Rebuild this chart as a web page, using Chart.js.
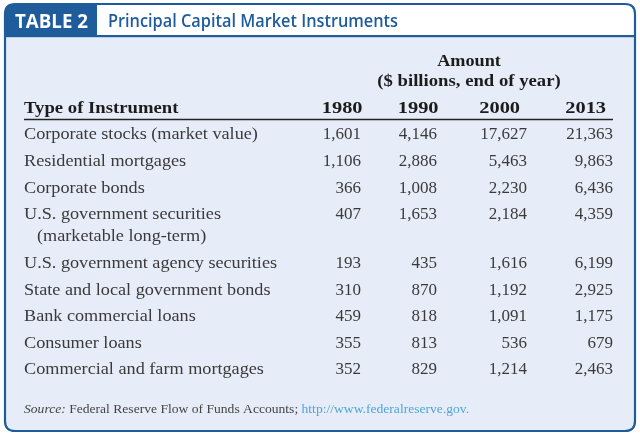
<!DOCTYPE html>
<html><head><meta charset="utf-8">
<script src="https://cdn.jsdelivr.net/npm/chart.js@4/dist/chart.umd.min.js"></script>
<style>html,body{margin:0;padding:0;background:#fff;}canvas{display:block;}</style>
</head><body>
<canvas id="c" width="640" height="434"></canvas>
<script>
// ---- data ----
const tableNumber = 'TABLE 2';
const tableTitle = 'Principal Capital Market Instruments';
const amountHeader = ['Amount', '($ billions, end of year)'];
const rowHeader = 'Type of Instrument';
const years = ['1980', '1990', '2000', '2013'];
const instruments = [
  'Corporate stocks (market value)',
  'Residential mortgages',
  'Corporate bonds',
  'U.S. government securities\n(marketable long-term)',
  'U.S. government agency securities',
  'State and local government bonds',
  'Bank commercial loans',
  'Consumer loans',
  'Commercial and farm mortgages'
];
const v1980 = [1601, 1106, 366, 407, 193, 310, 459, 355, 352];
const v1990 = [4146, 2886, 1008, 1653, 435, 870, 818, 813, 829];
const v2000 = [17627, 5463, 2230, 2184, 1616, 1192, 1091, 536, 1214];
const v2013 = [21363, 9863, 6436, 4359, 6199, 2925, 1175, 679, 2463];
const sourceLabel = 'Source:';
const sourceText = ' Federal Reserve Flow of Funds Accounts; ';
const sourceUrl = 'http://www.federalreserve.gov.';

// ---- layout / style ----
const W = 640, H = 434;
const layout = {
  rowPitch: 26.6, firstRowY: 135, wrapExtra: 0.83,
  labelX: 24, colRight: [361, 437, 527, 613], ruleEnd: 613,
  headerSlot: -1
};
const blue = '#1f5c9c', bodyBg = '#e7edf8', textCol = '#3a3a3a', boldCol = '#1c1c1c';
const serif = '"Liberation Serif", "Times New Roman", serif';
const sans = '"Open Sans", "Lato", sans-serif';

// row slots derived from line counts
const slots = [];
let acc = 0;
instruments.forEach(t => { slots.push(acc); acc += 1 + (t.split('\n').length - 1) * layout.wrapExtra; });

const fmt = n => n.toLocaleString('en-US');
const valueSeries = [v1980, v1990, v2000, v2013];

const datasets = [
  { label: 'instruments', data: instruments.map((t, i) => ({ x: layout.labelX, y: slots[i], text: t })), kind: 'label' }
].concat(valueSeries.map((vals, c) => ({
  label: years[c],
  data: vals.map((v, i) => ({ x: layout.colRight[c], y: slots[i], text: fmt(v) })),
  kind: 'value'
})));
datasets.forEach(d => { d.pointRadius = 0; d.pointHoverRadius = 0; d.showLine = false; });

function roundRectPath(ctx, x, y, w, h, r) {
  ctx.beginPath();
  ctx.moveTo(x + r, y); ctx.lineTo(x + w - r, y); ctx.quadraticCurveTo(x + w, y, x + w, y + r);
  ctx.lineTo(x + w, y + h - r); ctx.quadraticCurveTo(x + w, y + h, x + w - r, y + h);
  ctx.lineTo(x + r, y + h); ctx.quadraticCurveTo(x, y + h, x, y + h - r);
  ctx.lineTo(x, y + r); ctx.quadraticCurveTo(x, y, x + r, y); ctx.closePath();
}
function fitText(ctx, text, x, y, width) {
  const m = ctx.measureText(text).width;
  ctx.save(); ctx.translate(x, y); ctx.scale(width / m, 1); ctx.fillText(text, 0, 0); ctx.restore();
}
function scaledText(ctx, text, x, y, sx) {
  ctx.save(); ctx.translate(x, y); ctx.scale(sx, 1); ctx.fillText(text, 0, 0); ctx.restore();
}

const tablePlugin = {
  id: 'table',
  beforeDraw(chart) {
    const ctx = chart.ctx;
    ctx.save();
    ctx.fillStyle = '#fff'; ctx.fillRect(0, 0, W, H);
    roundRectPath(ctx, 5, 4, 630, 427, 10);
    ctx.fillStyle = bodyBg; ctx.fill();
    ctx.save(); ctx.clip();
    ctx.fillStyle = '#fff'; ctx.fillRect(0, 0, W, 36);
    ctx.fillStyle = blue; ctx.fillRect(0, 0, 97, 36);
    ctx.fillRect(0, 35, W, 2.2);
    ctx.restore();
    roundRectPath(ctx, 5, 4, 630, 427, 10);
    ctx.lineWidth = 2.2; ctx.strokeStyle = blue; ctx.stroke();
    ctx.textBaseline = 'alphabetic';
    ctx.fillStyle = '#fff'; ctx.font = 'bold 20px ' + sans;
    fitText(ctx, tableNumber, 15, 28, 73);
    ctx.fillStyle = blue; ctx.font = '600 18px ' + sans;
    fitText(ctx, tableTitle, 108, 27, 290);
    ctx.restore();
  },
  afterDatasetsDraw(chart) {
    const ctx = chart.ctx, ys = chart.scales.y;
    ctx.save();
    ctx.textBaseline = 'middle';
    // column headings
    const hy = ys.getPixelForValue(layout.headerSlot);
    ctx.fillStyle = boldCol; ctx.font = 'bold 17px ' + serif;
    ctx.textAlign = 'left'; scaledText(ctx, rowHeader, layout.labelX, hy, 1.1);
    chart.data.datasets.forEach((ds, di) => {
      if (ds.kind !== 'value') return;
      const meta = chart.getDatasetMeta(di);
      ctx.font = '17px ' + serif;
      const widest = Math.max(...ds.data.map(p => ctx.measureText(p.text).width));
      ctx.font = 'bold 17px ' + serif; ctx.textAlign = 'left';
      scaledText(ctx, ds.label, meta.data[0].x - widest - 1, hy, 1.2);
    });
    // amount header
    const amtX = 469;
    ctx.textAlign = 'center'; ctx.font = 'bold 17px ' + serif;
    scaledText(ctx, amountHeader[0], amtX, ys.getPixelForValue(layout.headerSlot - 1.76), 1.07);
    scaledText(ctx, amountHeader[1], amtX, ys.getPixelForValue(layout.headerSlot - 0.99), 1.1);
    // rule
    ctx.strokeStyle = '#222'; ctx.lineWidth = 1.5;
    const ry = ys.getPixelForValue(-0.58);
    ctx.beginPath(); ctx.moveTo(layout.labelX, ry); ctx.lineTo(layout.ruleEnd, ry); ctx.stroke();
    // cells
    ctx.fillStyle = textCol; ctx.font = '17px ' + serif;
    chart.data.datasets.forEach((ds, di) => {
      const meta = chart.getDatasetMeta(di);
      meta.data.forEach((el, i) => {
        const lines = ds.data[i].text.split('\n');
        const isLabel = ds.kind === 'label';
        ctx.textAlign = isLabel ? 'left' : 'right';
        lines.forEach((ln, k) => {
          const x = el.x + (k > 0 ? 13 : 0);
          const y = el.y + k * layout.wrapExtra * layout.rowPitch;
          if (isLabel) scaledText(ctx, ln, x, y, 1.07);
          else ctx.fillText(ln, x, y);
        });
      });
    });
    // source
    const sy = ys.getPixelForValue(acc + 0.51);
    ctx.textAlign = 'left'; ctx.fillStyle = '#444';
    ctx.save(); ctx.translate(layout.labelX, sy); ctx.scale(1.045, 1);
    ctx.font = 'italic 13px ' + serif;
    ctx.fillText(sourceLabel, 0, 0);
    let x = ctx.measureText(sourceLabel).width;
    ctx.font = '13px ' + serif;
    ctx.fillText(sourceText, x, 0);
    x += ctx.measureText(sourceText).width;
    ctx.fillStyle = '#4ea6d8';
    ctx.fillText(sourceUrl, x, 0);
    ctx.restore();
    ctx.restore();
  }
};

new Chart(document.getElementById('c'), {
  type: 'scatter',
  data: { datasets },
  options: {
    responsive: false, animation: false, devicePixelRatio: 1,
    layout: { padding: 0 },
    events: [],
    plugins: { legend: { display: false }, tooltip: { enabled: false } },
    scales: {
      x: { type: 'linear', display: false, min: 0, max: W },
      y: { type: 'linear', display: false, reverse: true,
           min: -layout.firstRowY / layout.rowPitch,
           max: (H - layout.firstRowY) / layout.rowPitch }
    }
  },
  plugins: [tablePlugin]
});
</script>
</body></html>
